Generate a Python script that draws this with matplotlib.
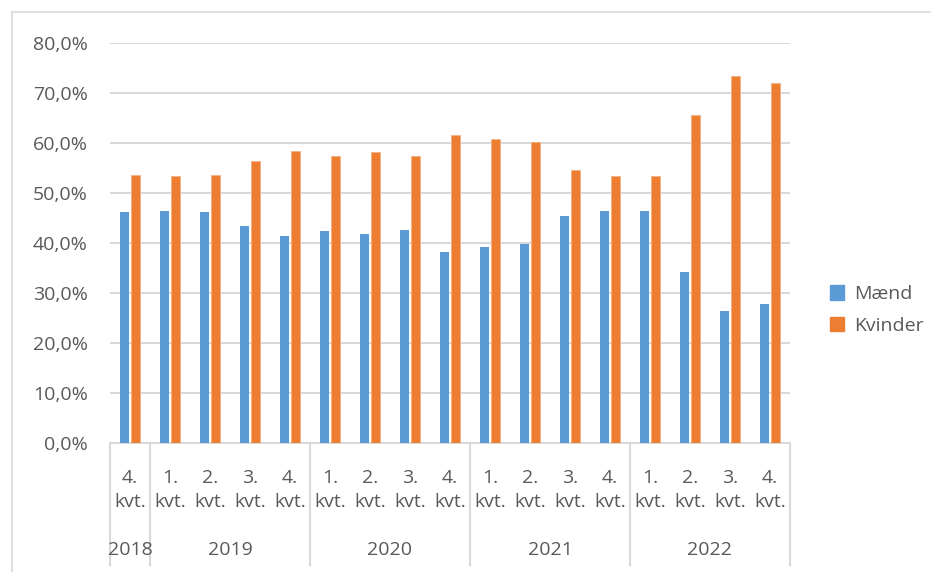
import matplotlib.pyplot as plt
import matplotlib.transforms as mtransforms
from matplotlib.lines import Line2D
import numpy as np

# data
years    = ["2018", "2019", "2020", "2021", "2022"]
quarters = ["4.", "1.", "2.", "3.", "4.", "1.", "2.", "3.", "4.",
            "1.", "2.", "3.", "4.", "1.", "2.", "3.", "4."]
year_spans = [1, 4, 4, 4, 4]  # number of quarters per year
kvinder = [53.7, 53.5, 53.7, 56.5, 58.5, 57.5, 58.2, 57.4, 61.7,
           60.8, 60.2, 54.6, 53.5, 53.5, 65.7, 73.5, 72.1]
maend   = [46.3, 46.5, 46.3, 43.5, 41.5, 42.5, 41.8, 42.6, 38.3,
           39.2, 39.8, 45.4, 46.5, 46.5, 34.3, 26.5, 27.9]

BLUE   = "#5B9BD5"
ORANGE = "#ED7D31"
GRID   = "#D9D9D9"
TXT    = "#595959"
FS     = 14

plt.rcParams['font.family'] = ['Open Sans', 'DejaVu Sans']

fig = plt.figure(figsize=(9.41, 5.72), dpi=100)
ax = fig.add_axes([110/941, 1-443/572, 680/941, 400/572])

x = np.arange(len(quarters))
w = 0.235
ax.bar(x - 0.145, maend, width=w, color=BLUE, label="Mænd", zorder=3)
ax.bar(x + 0.13, kvinder, width=w, color=ORANGE, edgecolor="#F4B183",
       linewidth=0.6, label="Kvinder", zorder=3)

ax.set_xlim(-0.5, len(quarters) - 0.5)
ax.set_ylim(0, 80)
ax.set_yticks(np.arange(0, 81, 10))
ax.set_yticklabels([f"{v:.1f}%".replace(".", ",") for v in range(0, 81, 10)],
                   fontsize=FS, color=TXT)
ax.yaxis.grid(True, color=GRID, linewidth=1.5, zorder=0)
ax.tick_params(axis="y", length=0, pad=16)
ax.set_xticks([])
for s in ["top", "right", "left"]:
    ax.spines[s].set_visible(False)
ax.spines["bottom"].set_color(GRID)
ax.spines["bottom"].set_linewidth(1.5)

# category labels below the axis
trans = mtransforms.blended_transform_factory(ax.transData, ax.transAxes)
for i, q in enumerate(quarters):
    ax.text(i, -35/400, q, transform=trans, ha="center", va="center",
            fontsize=FS, color=TXT)
    ax.text(i, -59/400, "kvt.", transform=trans, ha="center", va="center",
            fontsize=FS, color=TXT)

# year labels and group separators
start = 0
bounds = [-0.5]
for yr, n in zip(years, year_spans):
    mid = start + (n - 1) / 2
    ax.text(mid, -107/400, yr, transform=trans, ha="center", va="center",
            fontsize=FS, color=TXT)
    start += n
    bounds.append(start - 0.5)
for b in bounds:
    ax.plot([b, b], [0, -122/400], transform=trans, color=GRID,
            linewidth=1.5, clip_on=False)

# legend
handles = [plt.Rectangle((0, 0), 1, 1, color=BLUE),
           plt.Rectangle((0, 0), 1, 1, color=ORANGE)]
fig.legend(handles, ["Mænd", "Kvinder"], loc="center left",
           bbox_to_anchor=(812/941, 1-310/572), frameon=False,
           fontsize=FS, labelcolor=TXT, handlelength=0.75, handleheight=0.75,
           handletextpad=0.5, labelspacing=0.7)

# faint frame lines at top and left
fig.add_artist(Line2D([12/941, 12/941], [0, 1-12/572], color=GRID, linewidth=1.2))
fig.add_artist(Line2D([12/941, 930/941], [1-12/572, 1-12/572], color=GRID, linewidth=1.2))

fig.savefig("out.png", dpi=100)
